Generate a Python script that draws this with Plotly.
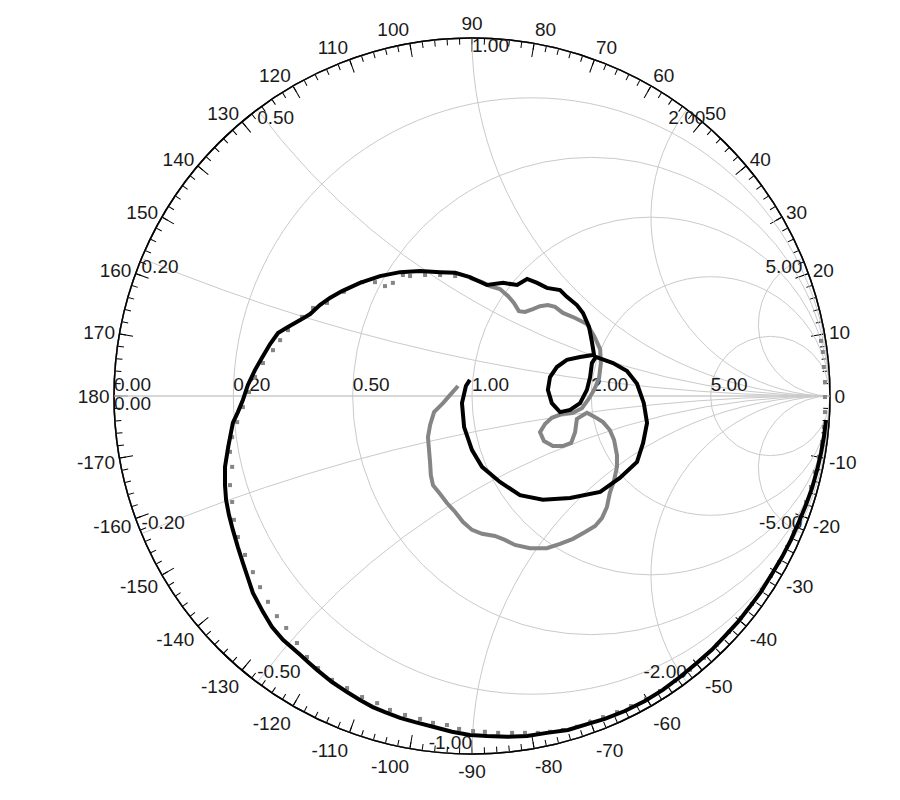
import numpy as np
import plotly.graph_objects as go

# ---- Data: reflection coefficient (Re, Im) of the two measured traces ----
black_re = [0.989, 0.983, 0.975, 0.964, 0.950, 0.933, 0.913, 0.891, 0.866, 0.838,
            0.807, 0.776, 0.743, 0.707, 0.670, 0.628, 0.581, 0.533, 0.483, 0.427,
            0.371, 0.324, 0.268, 0.209, 0.154, 0.098, 0.042, -0.006, -0.056, -0.109,
            -0.159, -0.201, -0.243, -0.277, -0.313, -0.349, -0.391, -0.433, -0.458, -0.480,
            -0.528, -0.559, -0.584, -0.612, -0.626, -0.640, -0.654, -0.668, -0.679, -0.687,
            -0.690, -0.690, -0.681, -0.668, -0.654, -0.640, -0.626, -0.606, -0.587, -0.564,
            -0.542, -0.519, -0.480, -0.452, -0.425, -0.397, -0.363, -0.313, -0.257, -0.201,
            -0.145, -0.089, -0.047, -0.006, 0.042, 0.087, 0.126, 0.154, 0.182, 0.209,
            0.246, 0.265, 0.293, 0.310, 0.327, 0.335, 0.341,
            0.302, 0.265, 0.237, 0.218, 0.212, 0.223, 0.246, 0.274, 0.302, 0.321,
            0.330, 0.335, 0.346,
            0.394, 0.433, 0.461, 0.480, 0.489, 0.478, 0.461, 0.413, 0.358, 0.274,
            0.198, 0.134, 0.078, 0.028, 0.000, -0.022, -0.028, -0.017, -0.006]
black_im = [-0.067, -0.115, -0.159, -0.207, -0.257, -0.304, -0.352, -0.402, -0.450, -0.497,
            -0.547, -0.589, -0.631, -0.670, -0.709, -0.746, -0.785, -0.821, -0.852, -0.880,
            -0.902, -0.916, -0.933, -0.941, -0.950, -0.952, -0.950, -0.947, -0.938, -0.924,
            -0.911, -0.899, -0.883, -0.869, -0.849, -0.827, -0.799, -0.765, -0.743, -0.723,
            -0.681, -0.645, -0.603, -0.550, -0.508, -0.466, -0.422, -0.374, -0.332, -0.290,
            -0.249, -0.198, -0.142, -0.075, -0.045, -0.011, 0.031, 0.073, 0.106, 0.145,
            0.176, 0.190, 0.212, 0.229, 0.254, 0.274, 0.293, 0.316, 0.335, 0.346,
            0.349, 0.346, 0.344, 0.332, 0.310, 0.316, 0.310, 0.327, 0.316, 0.302,
            0.296, 0.277, 0.254, 0.232, 0.193, 0.151, 0.115,
            0.109, 0.101, 0.081, 0.053, 0.017, -0.020, -0.045, -0.039, -0.020, 0.017,
            0.053, 0.092, 0.109,
            0.092, 0.070, 0.034, -0.020, -0.075, -0.131, -0.184, -0.229, -0.268, -0.285,
            -0.290, -0.277, -0.240, -0.198, -0.151, -0.087, -0.020, 0.028, 0.045]

grey_line_re = [-0.039, -0.061, -0.081, -0.106, -0.117, -0.123, -0.120, -0.117, -0.115, -0.109,
                -0.089, -0.070, -0.047, -0.025, 0.000, 0.028, 0.064, 0.092, 0.120, 0.162,
                0.209, 0.246, 0.282, 0.316, 0.344, 0.363, 0.377, 0.385, 0.397, 0.405,
                0.405, 0.397, 0.385, 0.366, 0.344, 0.321,
                0.293, 0.288, 0.277, 0.254, 0.226, 0.201, 0.190, 0.204, 0.223, 0.251, 0.282,
                0.307, 0.324, 0.341, 0.355, 0.360, 0.358, 0.341, 0.321, 0.288, 0.254,
                0.232, 0.212, 0.190, 0.170, 0.148, 0.131, 0.117, 0.101, 0.078, 0.050,
                0.028, -0.006]
grey_line_im = [0.028, 0.003, -0.020, -0.045, -0.081, -0.115, -0.151, -0.187, -0.221, -0.249,
                -0.274, -0.299, -0.324, -0.352, -0.374, -0.385, -0.391, -0.402, -0.416, -0.425,
                -0.425, -0.413, -0.399, -0.380, -0.363, -0.341, -0.310, -0.271, -0.235, -0.198,
                -0.165, -0.123, -0.095, -0.073, -0.059, -0.047,
                -0.064, -0.101, -0.131, -0.140, -0.140, -0.126, -0.101, -0.078, -0.061, -0.050, -0.047,
                -0.034, -0.011, 0.017, 0.050, 0.092, 0.131, 0.168, 0.201, 0.218, 0.232,
                0.249, 0.254, 0.251, 0.243, 0.235, 0.237, 0.260, 0.279, 0.299, 0.307,
                0.318, 0.330]

grey_pts_re = [-0.047, -0.089, -0.131, -0.173, -0.193, -0.221, -0.243, -0.271, -0.307, -0.358,
               -0.405, -0.444, -0.475, -0.514, -0.536, -0.556, -0.584, -0.606, -0.623, -0.640,
               -0.656, -0.670, -0.676, -0.670, -0.676, -0.670, -0.665, -0.654, -0.634, -0.612,
               -0.592, -0.570, -0.545, -0.519, -0.489, -0.461, -0.430, -0.391, -0.349, -0.307,
               -0.265, -0.229, -0.187, -0.145, -0.109, -0.070, -0.036, 0.003, 0.036, 0.073,
               0.112, 0.148, 0.184, 0.218, 0.254, 0.293, 0.330, 0.366, 0.405, 0.444,
               0.486, 0.525, 0.567, 0.609, 0.648, 0.684, 0.718, 0.751, 0.782, 0.810,
               0.835, 0.858, 0.880, 0.899, 0.916, 0.933, 0.947, 0.958, 0.969, 0.978,
               0.983, 0.986, 0.986, 0.986, 0.983, 0.980, 0.975]
grey_pts_im = [0.335, 0.338, 0.338, 0.335, 0.338, 0.316, 0.307, 0.318, 0.318, 0.291,
               0.260, 0.246, 0.221, 0.184, 0.156, 0.128, 0.092, 0.053, 0.011, -0.031,
               -0.073, -0.115, -0.156, -0.198, -0.249, -0.296, -0.346, -0.394, -0.444, -0.492,
               -0.534, -0.575, -0.615, -0.648, -0.690, -0.729, -0.760, -0.793, -0.816, -0.841,
               -0.858, -0.877, -0.891, -0.902, -0.913, -0.919, -0.930, -0.936, -0.938, -0.941,
               -0.941, -0.941, -0.941, -0.938, -0.933, -0.924, -0.911, -0.897, -0.883, -0.866,
               -0.846, -0.824, -0.796, -0.765, -0.732, -0.695, -0.659, -0.620, -0.581, -0.542,
               -0.503, -0.464, -0.422, -0.380, -0.338, -0.296, -0.254, -0.212, -0.170, -0.128,
               -0.087, -0.045, -0.003, 0.039, 0.081, 0.123, 0.154]

# ---- Axis ticks ----
real_ticks = [0, 0.2, 0.5, 1, 2, 5]
imag_ticks = [-5, -2, -1, -0.5, -0.2, 0, 0.2, 0.5, 1, 2, 5]
angle_major = list(range(0, 360, 10))
angle_labels = [str(a if a <= 180 else a - 360) for a in angle_major]
angle_minor = list(range(0, 360, 2))

# label placement (style) for the reactance labels, same order as imag_ticks
imag_label_pos = ["top left", "top left", "top left", "top right", "top right",
                  "bottom right", "bottom right", "bottom right", "bottom right",
                  "bottom center", "bottom left"]


def to_impedance(re, im):
    g = np.array(re) + 1j * np.array(im)
    z = (1 + g) / (1 - g)
    return z.real, z.imag


FONT = "Arial, Liberation Sans, sans-serif"
LABEL_FONT = dict(family=FONT, size=19, color="#1a1a1a")
dom = dict(x=[0.1178, 0.9133], y=[0.0675, 0.9625])

fig = go.Figure()

# grid tick labels placed through the smith scales
fig.add_trace(go.Scattersmith(real=real_ticks, imag=[0] * len(real_ticks), mode="text",
                              text=["%.2f" % v for v in real_ticks],
                              textposition="top right", textfont=LABEL_FONT,
                              showlegend=False, hoverinfo="skip"))
fig.add_trace(go.Scattersmith(real=[0] * len(imag_ticks), imag=imag_ticks, mode="text",
                              text=["%.2f" % v for v in imag_ticks],
                              textposition=imag_label_pos, textfont=LABEL_FONT,
                              showlegend=False, hoverinfo="skip"))

zr, zi = to_impedance(grey_pts_re, grey_pts_im)
fig.add_trace(go.Scattersmith(real=zr, imag=zi, mode="markers",
                              marker=dict(symbol="square", size=4, color="#858585"),
                              showlegend=False))
zr, zi = to_impedance(grey_line_re, grey_line_im)
fig.add_trace(go.Scattersmith(real=zr, imag=zi, mode="lines",
                              line=dict(color="#858585", width=4), showlegend=False))
zr, zi = to_impedance(black_re, black_im)
fig.add_trace(go.Scattersmith(real=zr, imag=zi, mode="lines",
                              line=dict(color="black", width=4), showlegend=False))

# polar overlays for the degree ring
fig.add_trace(go.Scatterpolar(r=[], theta=[], subplot="polar", showlegend=False))
fig.add_trace(go.Scatterpolar(r=[], theta=[], subplot="polar2", showlegend=False))

fig.update_layout(
    width=900, height=800,
    margin=dict(l=0, r=0, t=0, b=0),
    paper_bgcolor="white",
    font=dict(family=FONT, size=19, color="#1a1a1a"),
    smith=dict(
        domain=dom,
        bgcolor="rgba(0,0,0,0)",
        realaxis=dict(tickvals=real_ticks, showticklabels=False, showgrid=True,
                      gridcolor="#cacaca", gridwidth=1, showline=True,
                      linecolor="#cacaca", linewidth=1, ticks="",
                      layer="below traces"),
        imaginaryaxis=dict(tickvals=imag_ticks, showticklabels=False, showgrid=True,
                           gridcolor="#cacaca", gridwidth=1, showline=True,
                           linecolor="black", linewidth=1.5, ticks="",
                           layer="below traces"),
    ),
    polar=dict(
        domain=dom,
        bgcolor="rgba(0,0,0,0)",
        radialaxis=dict(visible=False, range=[0, 1]),
        angularaxis=dict(tickmode="array", tickvals=angle_major, ticktext=angle_labels,
                         direction="counterclockwise", rotation=0,
                         ticks="inside", ticklen=13, tickwidth=1, tickcolor="black",
                         showline=True, linecolor="black", linewidth=1.5,
                         showgrid=False,
                         tickfont=dict(family=FONT, size=19, color="#1a1a1a")),
    ),
    polar2=dict(
        domain=dom,
        bgcolor="rgba(0,0,0,0)",
        radialaxis=dict(visible=False, range=[0, 1]),
        angularaxis=dict(tickmode="array", tickvals=angle_minor,
                         direction="counterclockwise", rotation=0,
                         ticks="inside", ticklen=6, tickwidth=1, tickcolor="black",
                         showline=False, showgrid=False, showticklabels=False),
    ),
)

fig.write_html("out.html")
